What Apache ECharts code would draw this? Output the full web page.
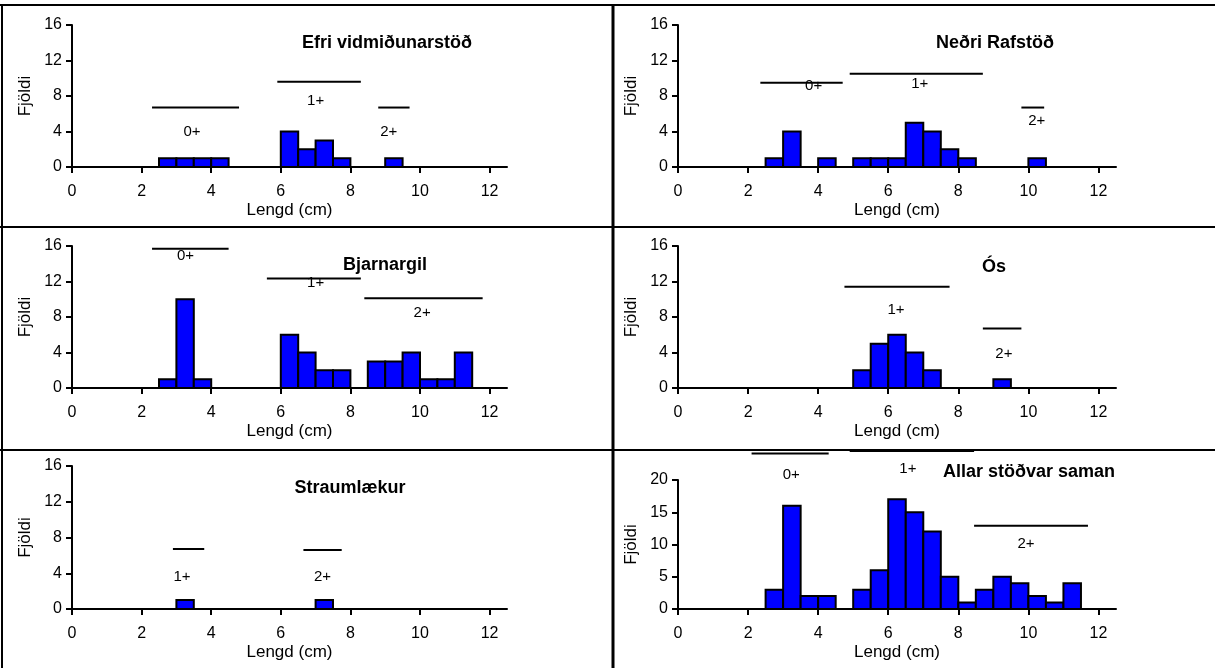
<!DOCTYPE html>
<html>
<head>
<meta charset="utf-8">
<script src="https://cdn.jsdelivr.net/npm/echarts@6/dist/echarts.min.js"></script>
<style>
html, body { margin: 0; padding: 0; background: #fff; }
#chart { width: 1215px; height: 668px; }
</style>
</head>
<body>
<div id="chart"></div>
<script>
// bin start (cm), every bin is 0.5 cm wide
const bins = [2.5, 3, 3.5, 4, 4.5, 5, 5.5, 6, 6.5, 7, 7.5, 8, 8.5, 9, 9.5, 10, 10.5, 11];
const binWidth = 0.5;

const efri       = [1, 1, 1, 1, 0, 0, 0, 4, 2, 3, 1, 0, 0, 1, 0, 0, 0, 0];
const nedri      = [1, 4, 0, 1, 0, 1, 1, 1, 5, 4, 2, 1, 0, 0, 0, 1, 0, 0];
const bjarnargil = [1, 10, 1, 0, 0, 0, 0, 6, 4, 2, 2, 0, 3, 3, 4, 1, 1, 4];
const os         = [0, 0, 0, 0, 0, 2, 5, 6, 4, 2, 0, 0, 0, 1, 0, 0, 0, 0];
const straum     = [0, 1, 0, 0, 0, 0, 0, 0, 0, 1, 0, 0, 0, 0, 0, 0, 0, 0];
const allar      = [3, 16, 2, 2, 0, 3, 6, 17, 15, 12, 5, 1, 3, 5, 4, 2, 1, 4];

// age groups: [label, line from, line to, line height, label x, label y]
const efriBands   = [['0+', 2.3, 4.8, 6.7, 3.45, 4.0], ['1+', 5.9, 8.3, 9.6, 7.0, 7.5], ['2+', 8.8, 9.7, 6.7, 9.1, 4.0]];
const nedriBands  = [['0+', 2.35, 4.7, 9.5, 3.87, 9.1], ['1+', 4.9, 8.7, 10.5, 6.9, 9.35], ['2+', 9.8, 10.45, 6.7, 10.24, 5.2]];
const bjarnBands  = [['0+', 2.3, 4.5, 15.7, 3.26, 14.85], ['1+', 5.6, 8.3, 12.35, 7.0, 11.8], ['2+', 8.4, 11.8, 10.1, 10.06, 8.45]];
const osBands     = [['1+', 4.75, 7.75, 11.4, 6.22, 8.75], ['2+', 8.7, 9.8, 6.7, 9.3, 3.8]];
const straumBands = [['1+', 2.9, 3.8, 6.7, 3.16, 3.6], ['2+', 6.65, 7.75, 6.6, 7.2, 3.6]];
const allarBands  = [['0+', 2.1, 4.3, 24.1, 3.23, 20.8], ['1+', 4.9, 8.45, 24.5, 6.56, 21.8], ['2+', 8.45, 11.7, 12.9, 9.93, 10.1]];

const xTicks = [0, 2, 4, 6, 8, 10, 12];

const panels = [
    { name: 'Efri vidmiðunarstöð', counts: efri, bands: efriBands, yMax: 16, yStep: 4,
      grid: { left: 72, top: 25, width: 435, height: 142 }, title: [387, 43] },
    { name: 'Neðri Rafstöð', counts: nedri, bands: nedriBands, yMax: 16, yStep: 4,
      grid: { left: 678, top: 25, width: 438, height: 142 }, title: [995, 43] },
    { name: 'Bjarnargil', counts: bjarnargil, bands: bjarnBands, yMax: 16, yStep: 4,
      grid: { left: 72, top: 246, width: 435, height: 142 }, title: [385, 265] },
    { name: 'Ós', counts: os, bands: osBands, yMax: 16, yStep: 4,
      grid: { left: 678, top: 246, width: 438, height: 142 }, title: [994, 267] },
    { name: 'Straumlækur', counts: straum, bands: straumBands, yMax: 16, yStep: 4,
      grid: { left: 72, top: 466, width: 435, height: 143 }, title: [350, 488] },
    { name: 'Allar stöðvar saman', counts: allar, bands: allarBands, yMax: 20, yStep: 5,
      grid: { left: 678, top: 480, width: 438, height: 129 }, title: [1029, 472] }
];

const FONT = '"Liberation Sans", Arial, sans-serif';

const myChart = echarts.init(document.getElementById('chart'));

let grids = [], xAxes = [], yAxes = [], series = [], graphics = [];

panels.forEach(function (p, i) {
    grids.push(Object.assign({ containLabel: false }, p.grid));
    xAxes.push({
        gridIndex: i, type: 'value', min: 0, max: 12.5,
        name: 'Lengd (cm)', nameLocation: 'middle', nameGap: 35,
        nameTextStyle: { color: '#000', fontSize: 17, fontFamily: FONT },
        axisLine: { show: true, onZero: false, lineStyle: { color: '#000', width: 2 } },
        axisTick: { show: true, length: 6, customValues: xTicks, lineStyle: { color: '#000', width: 2 } },
        axisLabel: { color: '#000', fontSize: 16, fontFamily: FONT, margin: 17, customValues: xTicks },
        splitLine: { show: false }
    });
    yAxes.push({
        gridIndex: i, type: 'value', min: 0, max: p.yMax, interval: p.yStep,
        name: 'Fjöldi', nameLocation: 'middle', nameGap: 38, nameRotate: 90,
        nameTextStyle: { color: '#000', fontSize: 17, fontFamily: FONT },
        axisLine: { show: true, lineStyle: { color: '#000', width: 2 } },
        axisTick: { show: true, length: 6, lineStyle: { color: '#000', width: 2 } },
        axisLabel: { color: '#000', fontSize: 16, fontFamily: FONT, margin: 10 },
        splitLine: { show: false }
    });

    let barData = [];
    bins.forEach(function (b, k) {
        if (p.counts[k] > 0) barData.push([b, p.counts[k]]);
    });
    series.push({
        type: 'custom', xAxisIndex: i, yAxisIndex: i, silent: true,
        data: barData,
        renderItem: function (params, api) {
            var x0 = api.value(0), c = api.value(1);
            var p1 = api.coord([x0, c]);
            var p2 = api.coord([x0 + binWidth, 0]);
            return {
                type: 'rect',
                shape: { x: p1[0], y: p1[1], width: p2[0] - p1[0], height: p2[1] - p1[1] },
                style: { fill: '#0000ff', stroke: '#000', lineWidth: 2 }
            };
        }
    });

    // age group lines + labels
    series.push({
        type: 'custom', xAxisIndex: i, yAxisIndex: i, silent: true, clip: false, z: 5,
        data: p.bands.map(function (b) { return [b[1], b[3]]; }),
        renderItem: function (params, api) {
            var b = p.bands[params.dataIndex];
            var a = api.coord([b[1], b[3]]);
            var e = api.coord([b[2], b[3]]);
            var t = api.coord([b[4], b[5]]);
            return {
                type: 'group',
                children: [
                    { type: 'line', shape: { x1: a[0], y1: a[1], x2: e[0], y2: e[1] },
                      style: { stroke: '#000', lineWidth: 2 } },
                    { type: 'text', x: t[0], y: t[1],
                      style: { text: b[0], fill: '#000', font: '15px ' + FONT, align: 'center', verticalAlign: 'middle' } }
                ]
            };
        }
    });

    graphics.push({
        type: 'text', x: p.title[0], y: p.title[1], z: 10,
        style: { text: p.name, fill: '#000', font: 'bold 18px ' + FONT, align: 'center', verticalAlign: 'middle' }
    });
});

// panel frame lines
const frame = [[0, 5, 1215, 5], [2, 5, 2, 668], [0, 227, 1215, 227], [0, 450, 1215, 450], [613, 5, 613, 668]];
frame.forEach(function (f, k) {
    graphics.push({
        type: 'line', z: 0, shape: { x1: f[0], y1: f[1], x2: f[2], y2: f[3] },
        style: { stroke: '#000', lineWidth: k === 4 ? 3 : 2 }
    });
});

myChart.setOption({
    animation: false,
    backgroundColor: '#fff',
    grid: grids,
    xAxis: xAxes,
    yAxis: yAxes,
    series: series,
    graphic: graphics
});
</script>
</body>
</html>
